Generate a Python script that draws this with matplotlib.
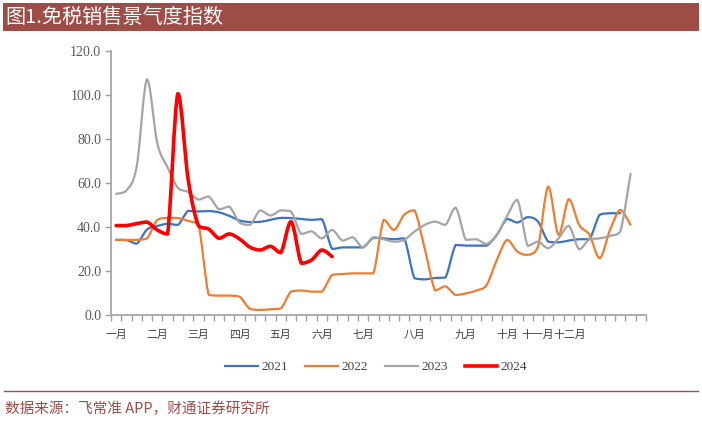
import numpy as np
import matplotlib
matplotlib.use('Agg')
import matplotlib.pyplot as plt
from matplotlib.path import Path
from matplotlib.patches import PathPatch, Rectangle
from matplotlib.lines import Line2D

plt.rcParams['font.family'] = ['Liberation Serif', 'Noto Sans CJK SC']

# 周度数据（52 个类别）
n_weeks = 52
month_labels = ['一月', '二月', '三月', '四月', '五月', '六月',
                '七月', '八月', '九月', '十月', '十一月', '十二月']
month_pos = [0, 4, 8, 12, 16, 20, 24, 29, 34, 38, 41, 44.1]

years = ['2021', '2022', '2023', '2024']

v2021 = [34.1, 34.0, 32.4, 38.8, 40.4, 41.4, 40.9, 47.3, 47.0, 47.2,
         46.6, 45.0, 42.9, 42.2, 42.3, 43.2, 44.1, 44.0, 43.6, 43.2,
         43.5, 30.0, 30.7, 30.7, 30.7, 35.0, 34.8, 34.4, 34.8, 16.7,
         16.2, 16.8, 17.0, 31.8, 31.5, 31.5, 31.5, 36.4, 43.6, 42.0,
         44.4, 42.4, 33.3, 33.0, 33.8, 34.4, 34.4, 45.5, 46.2, 46.2]
v2022 = [34.1, 34.1, 34.1, 34.8, 43.2, 44.1, 44.0, 42.7, 40.9, 9.1,
         8.8, 8.8, 8.3, 2.8, 2.3, 2.6, 3.0, 10.6, 11.1, 10.6,
         10.6, 18.2, 18.6, 18.9, 18.9, 18.9, 43.2, 38.6, 45.5, 47.5,
         30.0, 11.2, 13.0, 9.1, 9.8, 11.1, 13.6, 25.0, 34.1, 28.8,
         27.3, 31.0, 58.3, 36.4, 52.6, 40.9, 36.4, 25.8, 38.6, 47.7,
         40.9]
v2023 = [55.0, 56.5, 67.5, 107.0, 78.0, 67.0, 57.8, 55.9, 52.4, 53.8,
         48.0, 49.2, 42.0, 40.9, 47.5, 45.2, 47.5, 47.0, 36.8, 38.0,
         34.8, 38.6, 33.8, 35.3, 30.8, 35.3, 34.4, 33.3, 34.1, 37.9,
         40.9, 42.4, 40.9, 48.7, 34.1, 34.4, 32.3, 36.4, 45.0, 52.3,
         31.4, 33.3, 30.3, 34.8, 40.5, 29.8, 34.4, 34.8, 35.9, 37.9,
         64.1]
v2024 = [40.6, 40.6, 41.5, 42.2, 38.6, 36.8, 100.5, 61.5, 40.5, 39.0,
         34.8, 36.8, 34.5, 30.8, 29.5, 31.2, 28.3, 42.4, 23.5, 25.0,
         29.5, 26.5]

series = [v2021, v2022, v2023, v2024]
colors = ['#3A74C2', '#ED7D31', '#A5A5A5', '#FF0000']
widths = [1.6, 1.6, 1.6, 2.6]

dark_red = '#9E4C46'


def smooth_path(ys):
    """平滑线：三次贝塞尔，控制点取相邻点差的 1/6，并限制在线段的取值范围内"""
    pts = np.column_stack([np.arange(len(ys)), np.asarray(ys, dtype=float)])
    verts = [pts[0]]
    codes = [Path.MOVETO]
    for i in range(len(pts) - 1):
        p0 = pts[i - 1] if i > 0 else pts[i]
        p1, p2 = pts[i], pts[i + 1]
        p3 = pts[i + 2] if i + 2 < len(pts) else pts[i + 1]
        c1 = p1 + (p2 - p0) / 6.0
        c2 = p2 - (p3 - p1) / 6.0
        lo, hi = min(p1[1], p2[1]), max(p1[1], p2[1])
        c1[1] = np.clip(c1[1], lo, hi)
        c2[1] = np.clip(c2[1], lo, hi)
        verts += [c1, c2, p2]
        codes += [Path.CURVE4] * 3
    return Path(verts, codes)


fig = plt.figure(figsize=(7.02, 4.21), dpi=100)

# 标题栏
fig.patches.append(Rectangle((3 / 702, 1 - 31 / 421), 696 / 702, 28 / 421,
                             transform=fig.transFigure, facecolor=dark_red,
                             edgecolor='none'))
fig.text(5 / 702, 1 - 17 / 421, '图1.免税销售景气度指数', color='white',
         fontsize=14.5, family=['Noto Sans CJK SC'], va='center', ha='left')

ax = fig.add_axes([111 / 702, 1 - 315 / 421, 535 / 702, 264.3 / 421])

for ys, c, lw in zip(series, colors, widths):
    ax.add_patch(PathPatch(smooth_path(ys), facecolor='none', edgecolor=c,
                           lw=lw, capstyle='round', joinstyle='round'))

ax.set_xlim(-0.5, n_weeks - 0.5)
ax.set_ylim(0, 120)
ax.set_yticks(np.arange(0, 121, 20))
ax.set_yticklabels([f'{v:.1f}' for v in np.arange(0, 121, 20)])

ax.set_xticks(month_pos)
ax.set_xticklabels(month_labels, family=['Noto Sans CJK SC'], fontsize=7.8,
                   color='#404040', va='baseline')
ax.set_xticks(np.arange(-0.5, n_weeks, 1), minor=True)
ax.tick_params(axis='x', which='major', length=0, pad=16.5)
ax.tick_params(axis='x', which='minor', length=4, width=1, color='#A0A0A0',
               direction='out')
ax.tick_params(axis='y', length=4, width=1, color='#A0A0A0', direction='out',
               labelsize=10, labelcolor='#595959', pad=3)

for s in ['top', 'right']:
    ax.spines[s].set_visible(False)
for s in ['left', 'bottom']:
    ax.spines[s].set_color('#A0A0A0')
    ax.spines[s].set_linewidth(1.2)

handles = [Line2D([], [], color=c, lw=lw) for c, lw in zip(colors, widths)]
fig.legend(handles, years, loc='center', bbox_to_anchor=(376 / 702, 1 - 367 / 421),
           ncol=4, frameon=False, fontsize=9.5, handlelength=2.5,
           handletextpad=0.25, columnspacing=1.3, labelcolor='#404040')

# 底部分隔线与数据来源
fig.add_artist(Line2D([4 / 702, 698 / 702], [1 - 391 / 421, 1 - 391 / 421],
                      transform=fig.transFigure, color=dark_red, lw=1))
fig.text(5 / 702, 1 - 409 / 421, '数据来源：飞常准 APP，财通证券研究所',
         color=dark_red, fontsize=10.5, family=['Noto Sans CJK SC'],
         va='center', ha='left')

plt.savefig('out.png', dpi=100)
plt.close()
